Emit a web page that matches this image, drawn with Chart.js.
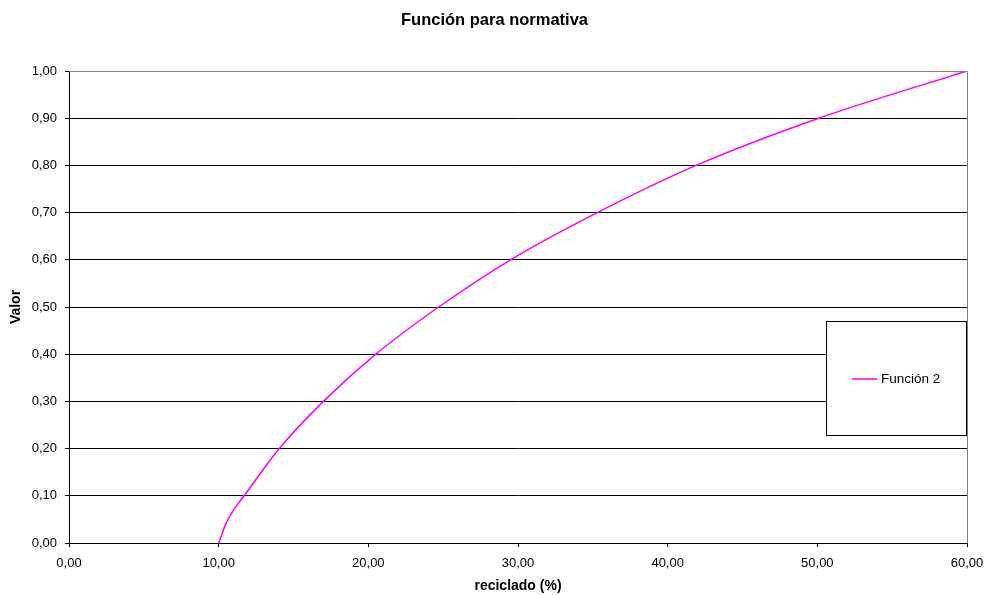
<!DOCTYPE html>
<html>
<head>
<meta charset="utf-8">
<script src="https://cdn.jsdelivr.net/npm/chart.js@4"></script>
<style>
  html, body { margin: 0; padding: 0; background: #fff; }
  #wrap { width: 989px; height: 595px; }
</style>
</head>
<body>
<div id="wrap"><canvas id="c" width="989" height="595"></canvas></div>
<script>
// Recycled percentage and the resulting value of the regulation function
const reciclado = [10.0, 10.5, 11.0, 11.7, 14.05, 17.0, 20.5, 24.7, 29.5, 35.3, 41.9, 50.1, 60.0];
const valor     = [0.00, 0.042, 0.07, 0.10, 0.20, 0.30, 0.40, 0.50, 0.60, 0.70, 0.80, 0.90, 1.00];
const seriesName = 'Función 2';
const chartTitle = 'Función para normativa';
const xTitle = 'reciclado (%)';
const yTitle = 'Valor';

const FONT = "'Liberation Sans', Arial, sans-serif";
const comma = v => Number(v).toFixed(2).replace('.', ',');

// Page title, grey frame on top/right of the plot area and a boxed legend
const framePlugin = {
  id: 'frame',
  afterDatasetsDraw(chart) {
    const { ctx, chartArea: a } = chart;
    ctx.save();
    ctx.fillStyle = '#000';
    ctx.font = 'bold 16.5px ' + FONT;
    ctx.textAlign = 'center';
    ctx.textBaseline = 'middle';
    ctx.fillText(chartTitle, chart.width / 2, 20);

    ctx.strokeStyle = '#808080';
    ctx.lineWidth = 1;
    ctx.beginPath();
    ctx.moveTo(a.left, a.top + 0.5);
    ctx.lineTo(a.right + 0.5, a.top + 0.5);
    ctx.lineTo(a.right + 0.5, a.bottom);
    ctx.stroke();

    // legend box
    const bx = 826.5, by = 321.5, bw = 140, bh = 114;
    ctx.fillStyle = '#fff';
    ctx.fillRect(bx, by, bw, bh);
    ctx.strokeStyle = '#000';
    ctx.strokeRect(bx, by, bw, bh);
    const ds = chart.data.datasets[0];
    const cy = 379;
    ctx.strokeStyle = ds.borderColor;
    ctx.lineWidth = 1.5;
    ctx.beginPath();
    ctx.moveTo(852, cy);
    ctx.lineTo(877, cy);
    ctx.stroke();
    ctx.fillStyle = '#000';
    ctx.font = '13.5px ' + FONT;
    ctx.textBaseline = 'middle';
    ctx.textAlign = 'left';
    ctx.fillText(ds.label, 881, cy);
    ctx.restore();
  }
};

new Chart(document.getElementById('c'), {
  type: 'scatter',
  data: {
    datasets: [{
      label: seriesName,
      data: reciclado.map((x, i) => ({ x, y: valor[i] })),
      showLine: true,
      borderColor: '#FF00FF',
      backgroundColor: '#FF00FF',
      borderWidth: 1.5,
      pointRadius: 0,
      pointHoverRadius: 0,
      cubicInterpolationMode: 'monotone',
      fill: false
    }]
  },
  options: {
    responsive: false,
    animation: false,
    layout: { padding: { left: 0, right: 22, top: 71, bottom: 0 } },
    plugins: {
      legend: { display: false },
      tooltip: { enabled: false },
      title: { display: false }
    },
    scales: {
      x: {
        type: 'linear',
        min: 0, max: 60,
        afterFit(s) { s.height = 52; s.paddingLeft = 0; s.paddingRight = 0; },
        ticks: {
          stepSize: 10,
          color: '#000',
          font: { family: FONT, size: 13 },
          padding: 9,
          maxRotation: 0,
          callback: v => comma(v)
        },
        grid: { drawOnChartArea: false, drawTicks: true, tickLength: 4, color: '#000' },
        border: { color: '#000', width: 1 },
        title: {
          display: true, text: xTitle, color: '#000',
          font: { family: FONT, size: 14, weight: 'bold' },
          padding: { top: 0, bottom: 0 }
        }
      },
      y: {
        type: 'linear',
        min: 0, max: 1,
        afterFit(s) { s.width = 69; s.paddingTop = 0; s.paddingBottom = 0; },
        ticks: {
          stepSize: 0.1,
          color: '#000',
          font: { family: FONT, size: 13 },
          padding: 8,
          callback: v => comma(v)
        },
        grid: { color: '#000', tickLength: 4, drawTicks: true },
        border: { color: '#000', width: 1 },
        title: {
          display: true, text: yTitle, color: '#000',
          font: { family: FONT, size: 14, weight: 'bold' },
          padding: { top: 8, bottom: 0 }
        }
      }
    }
  },
  plugins: [framePlugin]
});
</script>
</body>
</html>
